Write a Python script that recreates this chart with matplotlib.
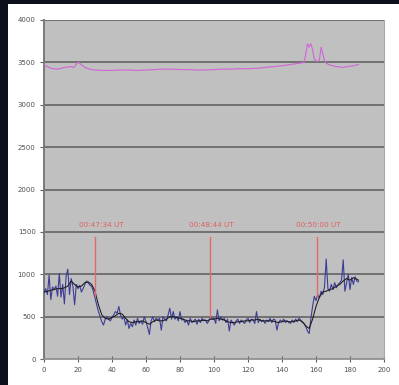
import matplotlib
matplotlib.use("Agg")
import matplotlib.pyplot as plt
from matplotlib.patches import Rectangle

# Raw count series (one sample per unit)
raw_x = list(range(0, 186))
raw_counts = [
    780, 830, 760, 990, 700, 850, 820, 860, 740, 1010,
    730, 880, 650, 980, 1060, 760, 950, 860, 640, 880,
    830, 870, 790, 830, 880, 920, 900, 870, 860, 800,
    720, 640, 560, 500, 440, 400, 470, 500, 470, 450,
    490, 520, 560, 540, 620, 520, 470, 500, 400, 460,
    360, 420, 380, 460, 400, 480, 420, 450, 410, 500,
    440, 370, 290, 450, 500, 440, 480, 460, 480, 340,
    500, 470, 450, 520, 600, 470, 560, 470, 500, 450,
    560, 460, 470, 430, 460, 400, 480, 430, 450, 470,
    410, 470, 430, 480, 450, 460, 420, 450, 500, 470,
    480, 420, 580, 450, 500, 460, 480, 430, 470, 330,
    460, 430, 400, 450, 470, 420, 460, 440, 420, 460,
    480, 430, 470, 460, 420, 560, 430, 470, 440, 460,
    420, 460, 440, 480, 430, 470, 460, 340, 430, 460,
    440, 470, 430, 450, 430, 420, 460, 430, 470, 440,
    480, 460, 430, 420, 380, 330, 300, 480, 620, 740,
    690, 760, 720, 800, 760, 850, 1180, 830, 800, 880,
    820, 900, 840, 880, 900, 930, 1170, 800, 900, 1000,
    820, 960, 880, 970, 920, 910,
]

# Smoothed series
smooth_x = [
    0, 2, 4, 6, 8, 10, 12, 14, 16, 18, 20, 22, 24, 26, 28, 30, 32, 34, 36, 38,
    40, 42, 44, 46, 48, 50, 52, 54, 56, 58, 60, 62, 64, 66, 68, 70, 72, 74, 76, 78,
    80, 82, 84, 86, 88, 90, 92, 94, 96, 98, 100, 102, 104, 106, 108, 110, 112, 114, 116, 118,
    120, 122, 124, 126, 128, 130, 132, 134, 136, 138, 140, 142, 144, 146, 148, 150, 152, 154, 156, 158,
    160, 162, 164, 166, 168, 170, 172, 174, 176, 178, 180, 182, 184, 185,
]
smooth_counts = [
    790, 800, 810, 820, 830, 830, 840, 860, 920, 880, 850, 860, 900, 910, 880, 800, 640, 520, 480, 470,
    490, 510, 540, 530, 480, 440, 430, 440, 440, 450, 430, 410, 440, 460, 450, 450, 470, 500, 500, 490,
    480, 470, 450, 450, 440, 450, 450, 460, 450, 470, 470, 480, 470, 460, 440, 430, 430, 440, 440, 450,
    450, 460, 460, 470, 450, 450, 450, 450, 440, 430, 440, 450, 440, 440, 450, 460, 440, 390, 360, 470,
    620, 730, 790, 800, 820, 830, 860, 880, 920, 950, 930, 960, 940, 930,
]

# Reference channel
ref_x = [
    0, 2, 4, 6, 8, 10, 12, 14, 16, 17, 18, 19, 20, 21, 22, 23, 24, 26, 28, 30,
    35, 40, 45, 50, 55, 60, 65, 70, 75, 80, 85, 90, 95, 100, 105, 110, 115, 120, 125, 130,
    135, 140, 145, 150, 152, 153, 154, 155, 156, 157, 158, 159, 160, 161, 162, 163, 164, 165, 166, 168,
    170, 172, 174, 176, 178, 180, 182, 185,
]
ref_counts = [
    3470, 3450, 3430, 3425, 3420, 3430, 3440, 3445, 3450, 3440, 3445, 3480, 3500, 3490, 3470, 3460, 3440, 3425, 3415, 3410,
    3405, 3405, 3410, 3410, 3405, 3410, 3415, 3420, 3420, 3415, 3415, 3410, 3410, 3415, 3420, 3420, 3425, 3425, 3430, 3440,
    3450, 3460, 3475, 3490, 3495, 3500, 3600, 3720, 3680, 3720, 3650, 3540, 3520, 3510, 3530, 3680, 3600, 3520, 3490, 3470,
    3460, 3450, 3445, 3440, 3450, 3455, 3460, 3475,
]

# Time markers
marker_x = [30, 97.6, 160.7]
marker_bottom = [740, 495, 735]
marker_top = 1440
marker_labels = ["00:47:34 UT", "00:48:44 UT", "00:50:00 UT"]
label_x = [33.5, 98.5, 161.5]
label_y = 1580

x_ticks = list(range(0, 201, 20))
y_ticks = list(range(0, 4001, 500))

fig = plt.figure(figsize=(3.99, 3.85), dpi=100)
fig.patch.set_facecolor("white")

# dark frame strips along the top and left edge
dark = "#0b0e1b"
fig.patches.append(Rectangle((0, 1 - 4 / 385), 1, 4 / 385, transform=fig.transFigure,
                             facecolor=dark, edgecolor="none", zorder=0))
fig.patches.append(Rectangle((0, 0), 8 / 399, 1, transform=fig.transFigure,
                             facecolor=dark, edgecolor="none", zorder=0))

ax = fig.add_axes([44 / 399, 1 - 359 / 385, 340 / 399, 339 / 385])
ax.set_facecolor("#c0c0c0")
ax.set_xlim(0, 200)
ax.set_ylim(0, 4000)

for v in y_ticks[1:]:
    ax.axhline(v, color="#6a6a6a", linewidth=1.3, zorder=1)

ax.plot(ref_x, ref_counts, color="#d068d6", linewidth=0.85, zorder=3)
ax.plot(raw_x, raw_counts, color="#3d3d96", linewidth=0.8, zorder=3)
ax.plot(smooth_x, smooth_counts, color="#1a1a1a", linewidth=0.75, zorder=4)

for xm, yb, lab, lx in zip(marker_x, marker_bottom, marker_labels, label_x):
    ax.plot([xm, xm], [yb, marker_top], color="#e26a6a", linewidth=1.0, zorder=5)
    ax.text(lx, label_y, lab, color="#e06060", fontsize=5.2, ha="center", va="center", zorder=5)

ax.set_xticks(x_ticks)
ax.set_yticks(y_ticks)
ax.tick_params(axis="x", direction="inout", length=4, width=0.8, color="#606060",
               labelsize=5, labelcolor="#505050", pad=4)
ax.tick_params(axis="y", direction="out", length=3, width=0.8, color="#606060",
               labelsize=5, labelcolor="#505050", pad=3)

ax.spines["left"].set_color("#7a7a7a")
ax.spines["left"].set_linewidth(1.4)
ax.spines["bottom"].set_color("#8a8a8a")
ax.spines["bottom"].set_linewidth(1.2)
ax.spines["right"].set_color("#a8a8a8")
ax.spines["right"].set_linewidth(0.8)
ax.spines["top"].set_visible(False)

fig.savefig("out.png", dpi=100, facecolor=fig.get_facecolor())
